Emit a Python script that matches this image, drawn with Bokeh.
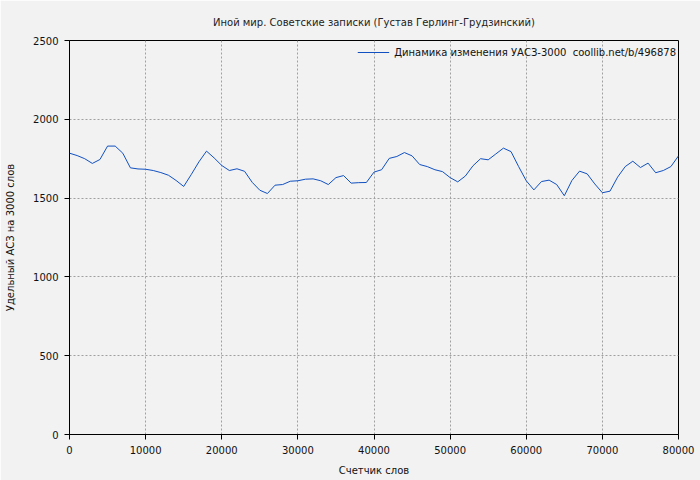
from bokeh.plotting import figure
from bokeh.embed import file_html
from bokeh.resources import INLINE
from bokeh.models import FixedTicker, Range1d, Legend, LegendItem, NumeralTickFormatter

title = "Иной мир. Советские записки (Густав Герлинг-Грудзинский)"
x_label = "Счетчик слов"
y_label = "Удельный АСЗ на 3000 слов"
series_name = "Динамика изменения УАСЗ-3000  coollib.net/b/496878"

words = [i * 1000 for i in range(81)]
values = [
    1785, 1770, 1750, 1720, 1745, 1830, 1830, 1785, 1692, 1685,
    1683, 1675, 1662, 1645, 1612, 1574, 1650, 1730, 1798, 1755,
    1707, 1675, 1686, 1670, 1600, 1550, 1529, 1582, 1586, 1607,
    1610, 1620, 1622, 1610, 1586, 1630, 1643, 1595, 1598, 1599,
    1665, 1680, 1752, 1764, 1789, 1768, 1713, 1700, 1680, 1668,
    1630, 1603, 1640, 1705, 1750, 1743, 1780, 1817, 1795, 1700,
    1610, 1552, 1605, 1614, 1586, 1515, 1612, 1671, 1654, 1590,
    1534, 1544, 1633, 1700, 1734, 1694, 1722, 1661, 1675, 1700,
    1768,
]
x_ticks = [0, 10000, 20000, 30000, 40000, 50000, 60000, 70000, 80000]
y_ticks = [0, 500, 1000, 1500, 2000, 2500]

BG = "#f2f2f2"
FONT = "DejaVu Sans"

p = figure(width=700, height=480, output_backend="svg", toolbar_location=None,
           x_range=Range1d(0, 80000), y_range=Range1d(0, 2500),
           background_fill_color=BG, border_fill_color=BG,
           min_border_left=69, min_border_right=22, min_border_top=40, min_border_bottom=46)

p.title.text = title
p.title.align = "center"
p.title.text_font = FONT
p.title.text_font_size = "10px"
p.title.text_font_style = "normal"
p.title.text_color = "#222222"
p.title.standoff = 26

r = p.line(words, values, line_color="#1050c0", line_width=1)

for ax in (p.xaxis[0], p.yaxis[0]):
    ax.axis_line_color = "black"
    ax.major_tick_line_color = "black"
    ax.major_tick_out = 5
    ax.major_tick_in = 0
    ax.minor_tick_line_color = None
    ax.major_label_text_font = FONT
    ax.major_label_text_font_size = "10px"
    ax.major_label_text_color = "#111111"
    ax.axis_label_text_font = FONT
    ax.axis_label_text_font_size = "10px"
    ax.axis_label_text_font_style = "normal"
    ax.axis_label_text_color = "#111111"

p.xaxis[0].ticker = FixedTicker(ticks=x_ticks)
p.yaxis[0].ticker = FixedTicker(ticks=y_ticks)
p.xaxis[0].formatter = NumeralTickFormatter(format="0")
p.yaxis[0].formatter = NumeralTickFormatter(format="0")
p.xaxis[0].axis_label = x_label
p.yaxis[0].axis_label = y_label
p.xaxis[0].major_label_standoff = 6
p.xaxis[0].axis_label_standoff = 8
p.yaxis[0].major_label_standoff = 6
p.yaxis[0].axis_label_standoff = 14

p.grid.grid_line_color = "#a0a0a0"
p.grid.grid_line_dash = "2 2"
p.grid.grid_line_width = 1

p.outline_line_color = "black"
p.outline_line_width = 1

legend = Legend(items=[LegendItem(label=series_name, renderers=[r])],
                location="top_right", background_fill_alpha=0, border_line_color=None,
                label_text_font=FONT, label_text_font_size="10px", label_text_color="#111111",
                glyph_width=32, margin=2, padding=1, spacing=0)
p.add_layout(legend)

html = file_html(p, INLINE)
html = html.replace("<body>", '<body style="background:#f2f2f2;margin:0">', 1)
open("out.html", "w").write(html)
